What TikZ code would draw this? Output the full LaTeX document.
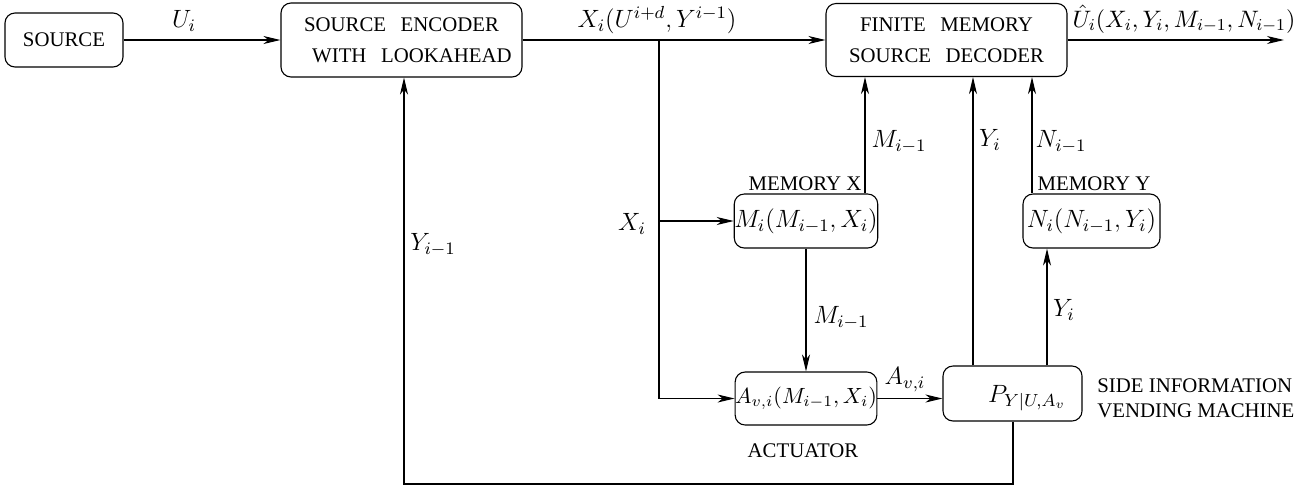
\RequirePackage{fix-cm}
\documentclass[tikz,border=0pt]{standalone}
\usepackage[no-math]{fontspec}
\setmainfont{Liberation Serif}
\usetikzlibrary{arrows.meta}
\tikzset{
  blk/.style={draw, rounded corners=5pt, line width=0.55pt, inner sep=0pt, align=center},
  txt/.style={font=\fontsize{10.4}{15.5}\selectfont},
  mth/.style={font=\fontsize{12.5}{15}\selectfont, inner sep=0pt},
  conn/.style={line width=0.55pt},
  arr/.style={conn, -{Stealth[length=8.5pt,width=4pt,inset=2.5pt]}},
}
\newcommand{\wsp}{\hspace{0.7em}}
\begin{document}
\begin{tikzpicture}[x=0.5pt,y=-0.5pt]
\useasboundingbox (0,0) rectangle (1316,489);
% blocks
\node[blk, txt, minimum width=59pt, minimum height=27pt] (src) at (64,40) {SOURCE};
\node[blk, txt, minimum width=120.5pt, minimum height=37pt] (enc) at (401.5,40) {SOURCE\wsp ENCODER\\\hspace{1em}WITH\wsp LOOKAHEAD};
\node[blk, txt, minimum width=120.5pt, minimum height=36.5pt] (dec) at (946.5,40) {FINITE\wsp MEMORY\\SOURCE\wsp DECODER};
\node[blk, minimum width=69pt, minimum height=27pt, font=\fontsize{12.5}{15}\selectfont] (memx) at (806,221) {$M_i(M_{i-1},X_i)$};
\node[blk, minimum width=68.5pt, minimum height=27pt, font=\fontsize{12.5}{15}\selectfont] (memy) at (1091.5,221) {$N_i(N_{i-1},Y_i)$};
\node[blk, minimum width=69pt, minimum height=26.5pt, font=\fontsize{11}{13}\selectfont] (act) at (806,398.5) {$A_{v,i}(M_{i-1},X_i)$};
\node[blk, minimum width=69.5pt, minimum height=27.5pt] (vend) at (1012.5,393.5) {};
\node[mth] (pyu) at (1027,398) {$P_{Y|U,A_v}$};
% coordinates
\coordinate (br) at (659,40);
\coordinate (out) at (1284,40);
\coordinate (xm) at (865,0);
\coordinate (xy1) at (973,0);
\coordinate (xn) at (1032,0);
\coordinate (xy2) at (1047,0);
\coordinate (fb) at (1013,484);
\coordinate (xenc) at (404,0);
% connectors
\draw[arr] (src) -- (enc);
\draw[arr] (enc) -- (dec);
\draw[arr] (dec) -- (out);
\draw[arr] (br) |- (act.west);
\draw[arr] (br |- memx.west) -- (memx.west);
\draw[arr] (memx.north -| xm) -- (dec.south -| xm);
\draw[arr] (memx) -- (act);
\draw[arr] (act.east) -- (act.east -| vend.west);
\draw[arr] (vend.north -| xy1) -- (dec.south -| xy1);
\draw[arr] (vend.north -| xy2) -- (memy.south -| xy2);
\draw[arr] (memy.north -| xn) -- (dec.south -| xn);
\draw[arr] (vend.south -| fb) -- (fb) -| (enc.south -| xenc);
% labels
\node[mth] (lu) at (184,21) {$U_i$};
\node[mth] (lx) at (657,20) {$X_i(U^{i+d},Y^{i-1})$};
\node[mth, font=\fontsize{11.9}{14}\selectfont] (lhat) at (1184,19) {$\hat{U}_i(X_i,Y_i,M_{i-1},N_{i-1})$};
\node[mth] (lxi) at (632,224) {$X_i$};
\node[mth] (lm1) at (899,142) {$M_{i-1}$};
\node[mth] (ly1) at (990,140) {$Y_i$};
\node[mth] (ln1) at (1061,142) {$N_{i-1}$};
\node[mth] (lm2) at (841,318) {$M_{i-1}$};
\node[mth] (ly2) at (1064,310) {$Y_i$};
\node[mth] (lyf) at (433,245) {$Y_{i-1}$};
\node[mth] (lav) at (905,380) {$A_{v,i}$};
\node[txt, inner sep=0pt] (lmx) at (805,184) {MEMORY X};
\node[txt, inner sep=0pt] (lmy) at (1094,184) {MEMORY Y};
\node[txt, inner sep=0pt] (lact) at (803,451) {ACTUATOR};
\node[txt, inner sep=0pt, anchor=west, align=left, font=\fontsize{10.4}{12.5}\selectfont] (lsi) at (1097,398) {SIDE INFORMATION\\VENDING MACHINE};
\end{tikzpicture}
\end{document}
